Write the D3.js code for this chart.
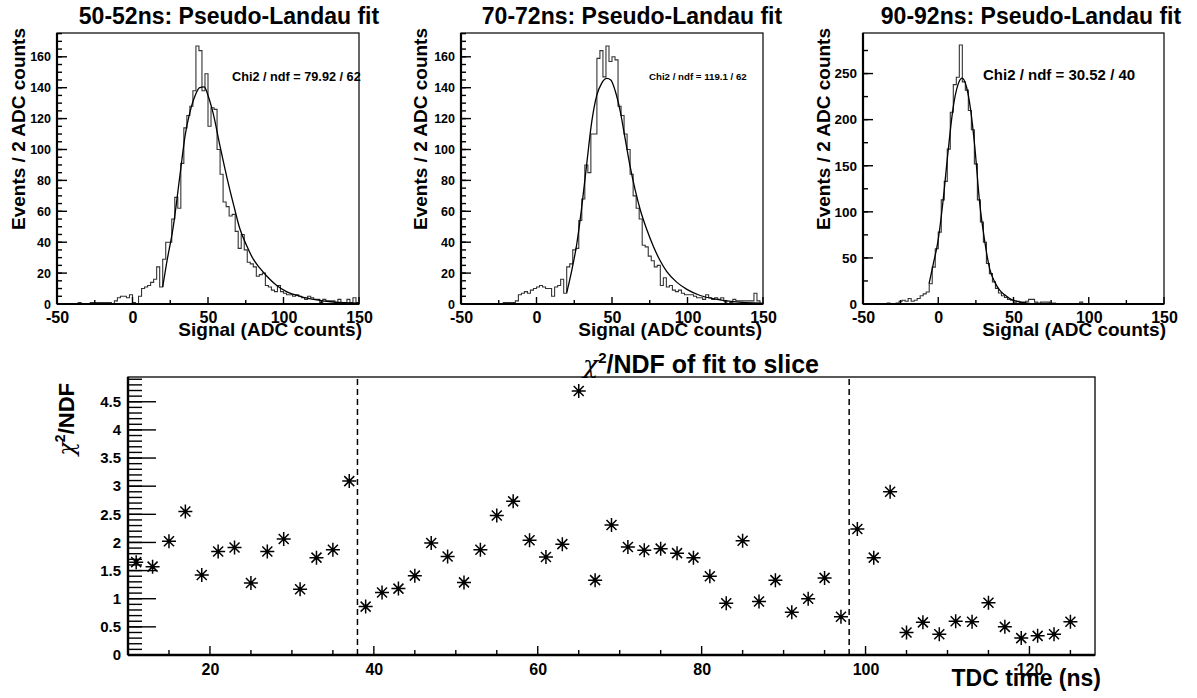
<!DOCTYPE html>
<html>
<head>
<meta charset="utf-8">
<script src="https://cdn.jsdelivr.net/npm/d3@7"></script>
<style>
  body { margin: 0; background: #fff; }
  text { font-family: "Liberation Sans", Arial, sans-serif; font-weight: bold; fill: #000; }
</style>
</head>
<body>
<svg id="chart" width="1197" height="698"></svg>
<script>
// ---- DATA ----
// histograms: 100 bins of 2 ADC counts from -50 to 150
var binLow = d3.range(-50, 150, 2);

var counts5052 = [
  0,0,0,0,0,0,0,1,0,0,
  0,1,1,1,1,1,1,1,0,2,
  4,5,5,4,6,1,0,5,10,11,
  12,14,16,24,11,29,40,40,55,69,
  62,91,114,122,128,138,167,164,138,149,
  115,127,126,100,84,66,63,57,58,47,
  36,45,35,27,26,24,18,19,20,12,
  11,9,8,12,8,7,6,6,5,6,
  5,4,3,5,4,3,3,1,3,2,
  2,2,1,3,1,1,3,1,4,1
];
var counts7072 = [
  0,0,0,0,0,0,0,0,0,0,
  0,0,0,0,1,1,1,1,2,6,
  7,8,7,9,10,11,12,11,10,10,
  5,11,12,16,7,24,26,35,36,54,
  68,90,85,110,110,159,164,147,167,157,
  160,158,128,122,110,100,84,70,62,55,
  38,37,31,28,24,25,12,17,11,12,
  9,8,9,7,6,6,6,5,4,4,
  3,6,4,3,4,3,4,2,0,1,
  3,2,2,2,2,2,2,7,2,0
];
var counts9092 = [
  0,0,0,0,0,0,0,0,1,0,
  0,1,3,4,3,6,3,4,6,9,
  11,13,22,40,60,78,113,133,168,208,
  238,246,281,241,232,210,189,152,113,89,
  67,44,33,24,17,12,9,7,5,4,
  2,3,2,2,3,5,5,2,1,2,
  2,2,1,1,0,0,0,0,0,0,
  0,0,2,0,0,0,0,0,0,0,
  0,0,0,0,0,0,0,0,0,0,
  0,0,0,0,0,0,0,0,0,0
];

// fitted pseudo-Landau curves
var fit5052X = [20, 22.5, 27, 31.5, 35, 38, 41.5, 44.5, 47.5, 50, 53.5, 58, 62.5, 67, 71, 75.5, 80, 84.5, 89, 95.5, 102, 111, 122, 133, 150];
var fit5052Y = [11, 26, 50, 84, 110, 124, 135, 140, 140.5, 135, 123, 102, 82, 64, 49, 38, 29, 23, 18, 12, 8, 5, 2.7, 1.3, 0.5];
var fit7072X = [20, 23.4, 26.7, 30, 33.3, 36.6, 39.9, 43.2, 46.6, 49.2, 52.1, 55.4, 58.7, 62, 65.3, 68.7, 73.1, 77.5, 81.9, 86.3, 93, 99.6, 108.4, 119.5, 130.5, 149.3];
var fit7072Y = [7.3, 22, 39, 63, 91, 118, 135, 143, 146, 145, 138, 125, 107, 89, 74, 61, 48, 37, 28, 21, 14, 9.5, 5.5, 3, 1.5, 0.5];
var fit9092X = [-6.1, -3.5, -0.2, 3.2, 6.5, 9.8, 13.1, 15.8, 18.7, 21.4, 24.2, 27.5, 30.9, 34.2, 37.5, 40.8, 44.1, 47.5, 51.9, 56.3, 60.8];
var fit9092Y = [22, 42, 68, 112, 165, 212, 238, 245, 236, 212, 172, 110, 68, 38, 24, 15, 10, 6, 3, 1.5, 0.7];

var panelTitles = ["50-52ns: Pseudo-Landau fit", "70-72ns: Pseudo-Landau fit", "90-92ns: Pseudo-Landau fit"];
var chi2Labels = ["Chi2 / ndf = 79.92 / 62", "Chi2 / ndf = 119.1 / 62", "Chi2 / ndf = 30.52 / 40"];
var histXTicks = [-50, 0, 50, 100, 150];

// chi2/NDF of the fit to each 2 ns slice
var tdcTime = [11,13,15,17,19,21,23,25,27,29,31,33,35,37,39,41,43,45,47,49,51,53,55,57,59,61,63,65,67,69,
               71,73,75,77,79,81,83,85,87,89,91,93,95,97,99,101,103,105,107,109,111,113,115,117,119,121,123,125];
var chi2ndf = [1.65,1.57,2.02,2.55,1.42,1.84,1.91,1.28,1.84,2.06,1.17,1.73,1.87,3.09,0.86,1.11,1.18,1.41,1.99,1.75,
               1.29,1.87,2.48,2.73,2.04,1.74,1.97,4.69,1.33,2.31,1.92,1.86,1.89,1.81,1.73,1.40,0.92,2.03,0.95,1.33,
               0.76,1.00,1.37,0.68,2.24,1.73,2.90,0.40,0.58,0.37,0.60,0.59,0.93,0.50,0.30,0.34,0.37,0.59];
var sliceBounds = [38, 98];
var tdcTicks = [20, 40, 60, 80, 100, 120];

// ---- DRAWING ----
var svg = d3.select("#chart");

var panels = [
  {counts: counts5052, fx: fit5052X, fy: fit5052Y, left: 57, right: 359, ymax: 175.4, yMajor: 20, yMinor: 5,
   tx: 229, chiX: 232, chiY: 81, chiSize: 12.7, ytX: 25, labSize: 12.5, xtRight: 362},
  {counts: counts7072, fx: fit7072X, fy: fit7072Y, left: 461, right: 763, ymax: 175.4, yMajor: 20, yMinor: 5,
   tx: 632, chiX: 649, chiY: 80, chiSize: 9.7, ytX: 427, labSize: 12.5, xtRight: 762},
  {counts: counts9092, fx: fit9092X, fy: fit9092Y, left: 863, right: 1164, ymax: 294, yMajor: 50, yMinor: 25,
   tx: 1031, chiX: 983, chiY: 80, chiSize: 15, ytX: 830, labSize: 13.5, xtRight: 1166}
];
var top0 = 33, bot0 = 304;

// tick labels come from d3.axis; inward tick marks are collected and drawn at the end
function labelAxis(sel, fontSize) {
  sel.select(".domain").remove();
  sel.selectAll(".tick line").remove();
  sel.selectAll(".tick text").attr("font-size", fontSize).attr("font-family", null).attr("fill", "#000");
}
var tickJobs = [];
function tickMarks(scale, values, side, pos, len) {
  tickJobs.push({scale: scale, values: values, side: side, pos: pos, len: len});
}

panels.forEach(function(p, i) {
  var x = d3.scaleLinear().domain([-50, 150]).range([p.left, p.right]);
  var y = d3.scaleLinear().domain([0, p.ymax]).range([bot0, top0]);
  var g = svg.append("g");

  tickMarks(x, [-25, 25, 75, 125], "x", bot0, 4);
  tickMarks(x, histXTicks, "x", bot0, 7);
  tickMarks(y, d3.range(0, p.ymax, p.yMinor), "y", p.left, 5);
  tickMarks(y, d3.range(0, p.ymax, p.yMajor), "y", p.left, 10);

  g.append("g").attr("transform", "translate(0," + bot0 + ")")
    .call(d3.axisBottom(x).tickValues(histXTicks).tickSize(0).tickPadding(8).tickFormat(function(d) { return String(d); }))
    .call(labelAxis, 16);
  g.append("g").attr("transform", "translate(" + p.left + ",0)")
    .call(d3.axisLeft(y).tickValues(d3.range(0, p.ymax, p.yMajor)).tickSize(0).tickPadding(6).tickFormat(function(d) { return String(d); }))
    .call(labelAxis, p.labSize);

  // histogram outline
  var steps = p.counts.map(function(c, k) { return [binLow[k], c]; });
  steps.push([150, p.counts[p.counts.length - 1]]);
  g.append("path")
    .attr("d", d3.line().x(function(d) { return x(d[0]); }).y(function(d) { return y(d[1]); }).curve(d3.curveStepAfter)(steps))
    .attr("fill", "none").attr("stroke", "#333").attr("stroke-width", 1.1);

  // fit curve
  var fit = p.fx.map(function(v, k) { return [v, p.fy[k]]; });
  g.append("path")
    .attr("d", d3.line().x(function(d) { return x(d[0]); }).y(function(d) { return y(d[1]); }).curve(d3.curveMonotoneX)(fit))
    .attr("fill", "none").attr("stroke", "#000").attr("stroke-width", 1.3);

  // frame
  g.append("rect").attr("x", p.left).attr("y", top0).attr("width", p.right - p.left).attr("height", bot0 - top0)
    .attr("fill", "none").attr("stroke", "#000").attr("stroke-width", 1.2);
  g.append("line").attr("x1", p.left).attr("x2", p.left).attr("y1", top0).attr("y2", bot0).attr("stroke", "#000").attr("stroke-width", 2.2);
  g.append("line").attr("x1", p.left).attr("x2", p.right).attr("y1", bot0).attr("y2", bot0).attr("stroke", "#000").attr("stroke-width", 2.2);

  // texts
  g.append("text").attr("x", p.tx).attr("y", 24).attr("text-anchor", "middle").attr("font-size", 23).text(panelTitles[i]);
  g.append("text").attr("x", p.chiX).attr("y", p.chiY).attr("font-size", p.chiSize).text(chi2Labels[i]);
  g.append("text").attr("x", p.xtRight).attr("y", 336).attr("text-anchor", "end").attr("font-size", 19).text("Signal (ADC counts)");
  g.append("text").attr("transform", "translate(" + p.ytX + ",28) rotate(-90)").attr("text-anchor", "end")
    .attr("font-size", 19).text("Events / 2 ADC counts");
});

// ---- bottom chi2/NDF panel ----
var L = 128, R = 1095, T = 377, B = 655;
var xs = d3.scaleLinear().domain([10, 128]).range([L, R]);
var ys = d3.scaleLinear().domain([0, 4.94]).range([B, T]);
var gb = svg.append("g");

var minorX = d3.range(15, 128, 5).filter(function(v) { return v % 20 !== 0; });
tickMarks(xs, minorX, "x", B, 5);
tickMarks(xs, tdcTicks, "x", B, 9);
tickMarks(ys, d3.range(0, 4.95, 0.1), "y", L, 14);
tickMarks(ys, d3.range(0, 4.6, 0.5), "y", L, 28);

gb.append("g").attr("transform", "translate(0," + B + ")")
  .call(d3.axisBottom(xs).tickValues(tdcTicks).tickSize(0).tickPadding(9).tickFormat(function(d) { return String(d); }))
  .call(labelAxis, 16);
gb.append("g").attr("transform", "translate(" + L + ",0)")
  .call(d3.axisLeft(ys).tickValues(d3.range(0, 4.6, 0.5)).tickSize(0).tickPadding(7)
        .tickFormat(function(d) { return String(+d.toFixed(1)); }))
  .call(labelAxis, 15);

// slice boundaries
gb.selectAll("line.bound").data(sliceBounds).enter().append("line")
  .attr("class", "bound")
  .attr("x1", function(d) { return xs(d); }).attr("x2", function(d) { return xs(d); })
  .attr("y1", B).attr("y2", T)
  .attr("stroke", "#000").attr("stroke-width", 1.5).attr("stroke-dasharray", "6,4");

// asterisk markers
var star = "M-7,0H7M0,-7V7M-5,-5L5,5M-5,5L5,-5";
var pts = gb.selectAll("g.pt").data(tdcTime).enter().append("g")
  .attr("class", "pt")
  .attr("transform", function(d, k) { return "translate(" + xs(d) + "," + ys(chi2ndf[k]) + ")"; });
pts.append("path").attr("d", star).attr("stroke", "#000").attr("stroke-width", 1.5).attr("fill", "none");
pts.append("circle").attr("r", 1.8).attr("fill", "#000");

// frame
gb.append("rect").attr("x", L).attr("y", T).attr("width", R - L).attr("height", B - T)
  .attr("fill", "none").attr("stroke", "#000").attr("stroke-width", 1.3);
gb.append("line").attr("x1", L).attr("x2", L).attr("y1", T).attr("y2", B).attr("stroke", "#000").attr("stroke-width", 2.4);
gb.append("line").attr("x1", L).attr("x2", R).attr("y1", B).attr("y2", B).attr("stroke", "#000").attr("stroke-width", 2.4);

// titles
var tt = gb.append("text").attr("x", 583).attr("y", 373).attr("font-size", 25);
tt.append("tspan").attr("font-weight", "normal").attr("font-family", "DejaVu Serif").attr("font-style", "italic").text("χ");
tt.append("tspan").attr("font-size", 15).attr("dy", -10).text("2");
tt.append("tspan").attr("dy", 10).text("/NDF of fit to slice");

var yt = gb.append("text").attr("transform", "translate(74,383) rotate(-90)").attr("text-anchor", "end").attr("font-size", 22);
yt.append("tspan").attr("font-weight", "normal").attr("font-family", "DejaVu Serif").attr("font-style", "italic").text("χ");
yt.append("tspan").attr("font-size", 14).attr("dy", -9).text("2");
yt.append("tspan").attr("dy", 9).text("/NDF");

gb.append("text").attr("x", 1101).attr("y", 686).attr("text-anchor", "end").attr("font-size", 23).text("TDC time (ns)");

// ---- tick marks (inward) as thin filled rectangles, drawn last ----
var tickLayer = svg.append("g").attr("class", "tickmarks");
tickJobs.forEach(function(job) {
  tickLayer.append("g").selectAll("rect").data(job.values).enter().append("rect")
    .attr("x", function(d) { return job.side === "x" ? job.scale(d) - 0.7 : job.pos; })
    .attr("y", function(d) { return job.side === "x" ? job.pos - job.len : job.scale(d) - 0.7; })
    .attr("width", job.side === "x" ? 1.4 : job.len)
    .attr("height", job.side === "x" ? job.len : 1.4)
    .attr("fill", "#000");
});
</script>
</body>
</html>
